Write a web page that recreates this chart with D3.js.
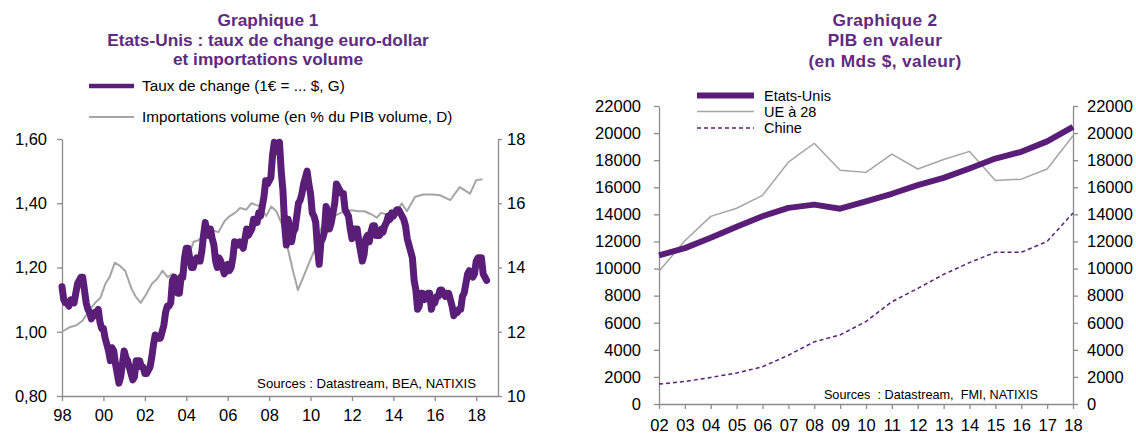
<!DOCTYPE html>
<html>
<head>
<meta charset="utf-8">
<script src="https://cdn.jsdelivr.net/npm/d3@7"></script>
<style>
  body { margin: 0; background: #fff; }
  svg { display: block; font-family: "Liberation Sans", Arial, sans-serif; }
  .axis path, .axis line { stroke: #8c8c8c; stroke-width: 1.3; }
  .axis text { fill: #000; }
</style>
</head>
<body>
<div id="graphic"></div>
<script>
// ---- Graphique 1 data ----
// euro-dollar, monthly from Jan 1998 (1€ = ... $)
const fxStartYear = 1998;
const fxMonthly = [
  1.14, 1.10, 1.09, 1.09, 1.08, 1.10, 1.10, 1.09, 1.12, 1.15, 1.16, 1.17, // 1998
  1.17, 1.13, 1.09, 1.07, 1.06, 1.04, 1.05, 1.06, 1.05, 1.07, 1.03, 1.01, // 1999
  1.01, 0.98, 0.96, 0.94, 0.91, 0.95, 0.94, 0.90, 0.87, 0.84, 0.86, 0.90, // 2000
  0.94, 0.92, 0.91, 0.89, 0.87, 0.85, 0.86, 0.91, 0.91, 0.91, 0.89, 0.89, // 2001
  0.87, 0.87, 0.88, 0.89, 0.92, 0.96, 0.99, 0.98, 0.98, 0.98, 1.00, 1.02, // 2002
  1.06, 1.08, 1.08, 1.09, 1.16, 1.17, 1.14, 1.12, 1.12, 1.17, 1.17, 1.23, // 2003
  1.26, 1.26, 1.23, 1.20, 1.20, 1.22, 1.23, 1.22, 1.22, 1.25, 1.30, 1.34, // 2004
  1.31, 1.30, 1.32, 1.29, 1.27, 1.22, 1.20, 1.23, 1.22, 1.20, 1.18, 1.19, // 2005
  1.21, 1.19, 1.20, 1.23, 1.28, 1.27, 1.27, 1.28, 1.27, 1.26, 1.29, 1.32, // 2006
  1.30, 1.31, 1.32, 1.35, 1.35, 1.34, 1.37, 1.36, 1.39, 1.42, 1.47, 1.46, // 2007
  1.47, 1.48, 1.55, 1.59, 1.56, 1.56, 1.59, 1.50, 1.44, 1.33, 1.27, 1.35, // 2008
  1.32, 1.28, 1.31, 1.32, 1.36, 1.40, 1.41, 1.43, 1.46, 1.48, 1.50, 1.46, // 2009
  1.43, 1.37, 1.36, 1.34, 1.26, 1.21, 1.28, 1.29, 1.31, 1.39, 1.37, 1.32, // 2010
  1.34, 1.37, 1.40, 1.46, 1.45, 1.44, 1.43, 1.43, 1.38, 1.37, 1.36, 1.32, // 2011
  1.29, 1.32, 1.32, 1.32, 1.28, 1.25, 1.22, 1.24, 1.29, 1.30, 1.28, 1.31, // 2012
  1.33, 1.33, 1.30, 1.30, 1.30, 1.32, 1.31, 1.33, 1.34, 1.36, 1.35, 1.37, // 2013
  1.36, 1.37, 1.38, 1.38, 1.37, 1.36, 1.35, 1.33, 1.29, 1.27, 1.25, 1.23, // 2014
  1.16, 1.13, 1.07, 1.08, 1.12, 1.12, 1.10, 1.11, 1.12, 1.12, 1.07, 1.09, // 2015
  1.09, 1.11, 1.11, 1.13, 1.13, 1.12, 1.11, 1.12, 1.12, 1.10, 1.08, 1.05, // 2016
  1.06, 1.06, 1.07, 1.07, 1.11, 1.12, 1.15, 1.18, 1.19, 1.18, 1.17, 1.18, // 2017
  1.22, 1.23, 1.23, 1.23, 1.18, 1.17, 1.16                                // 2018
];
// imports volume, % of GDP volume (right axis)
const impDates = [1998.0, 1998.4, 1998.7, 1999.0, 1999.35, 1999.6, 1999.85, 2000.1, 2000.3, 2000.55,
  2000.8, 2001.05, 2001.35, 2001.55, 2001.8, 2002.05, 2002.35, 2002.6, 2002.85, 2003.1,
  2003.35, 2003.6, 2003.85, 2004.1, 2004.35, 2004.6, 2004.85, 2005.1, 2005.3, 2005.55,
  2005.85, 2006.1, 2006.35, 2006.6, 2006.9, 2007.15, 2007.35, 2007.6, 2007.85, 2008.1,
  2008.35, 2008.65, 2008.9, 2009.15, 2009.39, 2009.65, 2009.9, 2010.2, 2010.45, 2010.65,
  2010.9, 2011.15, 2011.45, 2011.7, 2012.0, 2012.3, 2012.6, 2012.95, 2013.2, 2013.4,
  2013.7, 2014.0, 2014.4, 2014.65, 2015.05, 2015.45, 2015.9, 2016.25, 2016.75, 2017.2,
  2017.7, 2018.0, 2018.3];
const impValues = [12.0, 12.15, 12.2, 12.35, 12.7, 12.9, 13.05, 13.5, 13.7, 14.15,
  14.05, 13.9, 13.35, 13.1, 12.9, 13.15, 13.5, 13.65, 13.9, 13.7,
  13.8, 13.7, 13.95, 14.35, 14.8, 14.85, 15.05, 15.1, 15.15, 15.1,
  15.45, 15.6, 15.7, 15.85, 15.8, 16.0, 15.95, 15.9, 15.6, 15.9,
  15.75, 15.3, 14.6, 13.9, 13.3, 13.7, 14.1, 14.55, 15.1, 15.45,
  15.5, 15.6, 15.7, 15.75, 15.78, 15.75, 15.75, 15.65, 15.55, 15.7,
  15.65, 15.55, 16.0, 15.75, 16.2, 16.27, 16.27, 16.25, 16.1, 16.5,
  16.3, 16.72, 16.75];
const leftTicks1 = [0.8, 1.0, 1.2, 1.4, 1.6];
const rightTicks1 = [10, 12, 14, 16, 18];
const yearTicks1 = [1998, 2000, 2002, 2004, 2006, 2008, 2010, 2012, 2014, 2016, 2018];

// ---- Graphique 2 data (Mds $) ----
const gdpYears = [2002, 2003, 2004, 2005, 2006, 2007, 2008, 2009, 2010, 2011, 2012, 2013, 2014, 2015, 2016, 2017, 2018];
const gdpUS    = [10980, 11510, 12270, 13090, 13860, 14480, 14720, 14420, 14960, 15520, 16160, 16690, 17390, 18120, 18620, 19390, 20450];
const gdpEU    = [9800, 12050, 13850, 14450, 15400, 17850, 19250, 17250, 17100, 18450, 17350, 18050, 18650, 16500, 16600, 17350, 19800];
const gdpChina = [1470, 1660, 1960, 2290, 2750, 3600, 4590, 5100, 6090, 7550, 8530, 9570, 10440, 11200, 11200, 12000, 14100];
const gdpTicks = [0, 2000, 4000, 6000, 8000, 10000, 12000, 14000, 16000, 18000, 20000, 22000];

const purple = "#5a1e78";
const titlePurple = "#5e2b80";
const grey = "#a5a5a5";
const labelFont = "16.5px";

const svg = d3.select("#graphic").append("svg")
    .attr("width", 1136)
    .attr("height", 435);

// ================= Graphique 1 =================
const x1 = d3.scaleLinear().domain([1998, 2019.05]).range([62, 498]);
const yL = d3.scaleLinear().domain([0.8, 1.6]).range([396, 139]);
const yR = d3.scaleLinear().domain([10, 18]).range([396, 139]);

const title1 = ["Graphique 1", "Etats-Unis : taux de change euro-dollar", "et importations volume"];
svg.append("g").selectAll("text").data(title1).join("text")
    .attr("x", 268)
    .attr("y", (d, i) => 26 + i * 19.7)
    .attr("text-anchor", "middle")
    .attr("font-size", "17.3px")
    .attr("font-weight", "bold")
    .attr("fill", titlePurple)
    .text(d => d);

svg.append("g").attr("class", "axis")
    .attr("transform", "translate(62,0)")
    .call(d3.axisLeft(yL).tickValues(leftTicks1).tickSize(5).tickSizeOuter(0).tickPadding(10)
        .tickFormat(d => d3.format(".2f")(d).replace(".", ",")))
    .call(g => g.selectAll("text").attr("font-size", labelFont));

svg.append("g").attr("class", "axis")
    .attr("transform", "translate(498,0)")
    .call(d3.axisRight(yR).tickValues(rightTicks1).tickSize(4).tickSizeOuter(0).tickPadding(5))
    .call(g => g.selectAll("text").attr("font-size", labelFont));

svg.append("g").attr("class", "axis")
    .attr("transform", "translate(0,396)")
    .call(d3.axisBottom(x1).tickValues(yearTicks1).tickSize(5).tickSizeOuter(0).tickPadding(8)
        .tickFormat(d => String(d).slice(2)))
    .call(g => g.selectAll("text").attr("font-size", labelFont));

// imports (grey, right axis)
svg.append("path")
    .datum(impDates.map((d, i) => [d, impValues[i]]))
    .attr("fill", "none")
    .attr("stroke", grey)
    .attr("stroke-width", 2)
    .attr("stroke-linejoin", "round")
    .attr("d", d3.line().x(d => x1(d[0])).y(d => yR(d[1])));

// exchange rate (purple, left axis)
svg.append("path")
    .datum(fxMonthly.map((v, i) => [fxStartYear + i / 12, v]))
    .attr("fill", "none")
    .attr("stroke", purple)
    .attr("stroke-width", 7)
    .attr("stroke-linejoin", "round")
    .attr("stroke-linecap", "round")
    .attr("d", d3.line().x(d => x1(d[0])).y(d => yL(d[1])));

// legend 1
const legend1 = [
  {label: "Taux de change (1€ = ... $, G)", color: purple, width: 4.5, y: 86},
  {label: "Importations volume (en % du PIB volume, D)", color: grey, width: 2, y: 117}
];
const lg1 = svg.append("g").selectAll("g").data(legend1).join("g");
lg1.append("line")
    .attr("x1", 89).attr("x2", 134)
    .attr("y1", d => d.y).attr("y2", d => d.y)
    .attr("stroke", d => d.color)
    .attr("stroke-width", d => d.width);
lg1.append("text")
    .attr("x", 142)
    .attr("y", d => d.y + 5)
    .attr("font-size", "15.3px")
    .text(d => d.label);

svg.append("text")
    .attr("x", 476).attr("y", 388)
    .attr("text-anchor", "end")
    .attr("font-size", "13.2px")
    .text("Sources : Datastream, BEA, NATIXIS");

// ================= Graphique 2 =================
const x2 = d3.scaleLinear().domain([2002, 2018]).range([659, 1073]);
const y2 = d3.scaleLinear().domain([0, 22000]).range([404, 106]);

const title2 = ["Graphique 2", "PIB en valeur", "(en Mds $, valeur)"];
svg.append("g").selectAll("text").data(title2).join("text")
    .attr("x", 885)
    .attr("y", (d, i) => [26, 46, 67][i])
    .attr("text-anchor", "middle")
    .attr("font-size", "17.3px")
    .attr("font-weight", "bold")
    .attr("letter-spacing", "0.4px")
    .attr("fill", titlePurple)
    .text(d => d);

svg.append("g").attr("class", "axis")
    .attr("transform", "translate(659,0)")
    .call(d3.axisLeft(y2).tickValues(gdpTicks).tickSize(5).tickSizeOuter(0).tickPadding(13)
        .tickFormat(d3.format("d")))
    .call(g => g.selectAll("text").attr("font-size", labelFont));

svg.append("g").attr("class", "axis")
    .attr("transform", "translate(1073,0)")
    .call(d3.axisRight(y2).tickValues(gdpTicks).tickSize(5).tickSizeOuter(0).tickPadding(9)
        .tickFormat(d3.format("d")))
    .call(g => g.selectAll("text").attr("font-size", labelFont));

svg.append("g").attr("class", "axis")
    .attr("transform", "translate(0,404)")
    .call(d3.axisBottom(x2).tickValues(gdpYears).tickSize(5).tickSizeOuter(0).tickPadding(10)
        .tickFormat(d => String(d).slice(2)))
    .call(g => g.selectAll("text").attr("font-size", labelFont));

const series2 = [
  {name: "Etats-Unis", values: gdpUS, color: purple, width: 6, dash: null, y: 95.5},
  {name: "UE à 28", values: gdpEU, color: grey, width: 1.5, dash: null, y: 111.5},
  {name: "Chine", values: gdpChina, color: purple, width: 1.5, dash: "4,3", y: 128}
];
const line2 = d3.line().x((d, i) => x2(gdpYears[i])).y(d => y2(d));

// draw order: EU, China, then US on top
[series2[1], series2[2], series2[0]].forEach(s => {
  svg.append("path")
      .datum(s.values)
      .attr("fill", "none")
      .attr("stroke", s.color)
      .attr("stroke-width", s.width)
      .attr("stroke-dasharray", s.dash)
      .attr("stroke-linejoin", "round")
      .attr("d", line2);
});

const lg2 = svg.append("g").selectAll("g").data(series2).join("g");
lg2.append("line")
    .attr("x1", 697).attr("x2", 754)
    .attr("y1", d => d.y).attr("y2", d => d.y)
    .attr("stroke", d => d.color)
    .attr("stroke-width", d => d.width)
    .attr("stroke-dasharray", d => d.dash);
lg2.append("text")
    .attr("x", 764)
    .attr("y", d => d.y + 5)
    .attr("font-size", "14.5px")
    .text(d => d.name);

svg.append("text")
    .attr("x", 1038).attr("y", 399)
    .attr("text-anchor", "end")
    .attr("font-size", "12.7px")
    .style("white-space", "pre")
    .text("Sources  : Datastream,  FMI, NATIXIS");
</script>
</body>
</html>
